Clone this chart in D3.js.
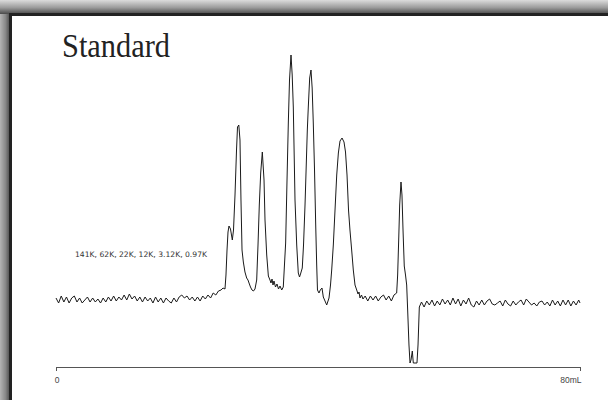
<!DOCTYPE html>
<html>
<head>
<meta charset="utf-8">
<script src="https://cdn.jsdelivr.net/npm/d3@7"></script>
<style>
  html, body { margin: 0; padding: 0; background: #fff; }
  svg { display: block; }
</style>
</head>
<body>
<div id="chart"></div>
<script>
// ---- data ----
const title = "Standard";
const standardsLabel = "141K, 62K, 22K, 12K, 3.12K, 0.97K";
const xDomain = [0, 80];
const xTickValues = [0, 80];
const xTickLabels = ["0", "80mL"];

// elution volume (mL) and detector signal (arbitrary units)
const trace = [
  [0.0,2],[0.4,-3],[0.8,4],[1.2,-2],[1.6,3],[2.0,-3],[2.4,2],[2.8,4],[3.2,-2],[3.6,2],
  [4.0,-3],[4.4,0],[4.8,3],[5.2,-2],[5.6,2],[6.0,-2],[6.4,1],[6.8,-3],[7.2,2],[7.6,-2],
  [8.0,3],[8.4,-1],[8.8,4],[9.2,-1],[9.6,3],[10.0,0],[10.4,5],[10.8,0],[11.2,6],[11.6,1],
  [12.0,4],[12.4,-1],[12.8,3],[13.2,-2],[13.6,3],[14.0,-1],[14.4,2],[14.8,-3],[15.2,3],[15.6,-2],
  [16.0,2],[16.4,-3],[16.8,2],[17.2,-1],[17.6,-3],[18.0,2],[18.4,-2],[18.8,3],[19.2,5],[19.6,2],
  [20.0,4],[20.4,0],[20.8,3],[21.2,-1],[21.6,3],[22.0,-1],[22.4,4],[22.8,1],[23.2,5],[23.6,2],
  [24.0,7],[24.4,5],[24.8,9],[25.2,10],
  [25.50,12],[25.80,11],[25.95,25],[26.11,50],[26.26,68],[26.41,74],[26.64,71],[26.92,60],
  [27.10,70],[27.33,105],[27.56,150],[27.71,173],[27.91,175],[28.09,160],[28.24,100],[28.40,50],
  [28.60,38],[28.85,28],[29.11,22],[29.31,20],[29.47,17],[29.69,13],[29.92,10],[30.15,9],
  [30.38,11],[30.64,20],[30.84,55],[31.04,95],[31.25,127],[31.50,148],[31.76,120],[31.91,80],
  [32.17,45],[32.42,24],[32.67,20],[32.82,17],[32.98,21],[33.13,15],[33.28,19],[33.51,13],
  [33.74,16],[33.97,11],[34.20,14],[34.46,10],[34.70,13],[34.88,35],[35.06,57],[35.27,120],
  [35.47,177],[35.65,220],[35.88,245],[36.06,225],[36.23,193],[36.49,100],[36.75,55],[36.99,27],
  [37.18,23],[37.33,26],[37.60,32],[37.79,55],[38.02,95],[38.17,127],[38.37,170],[38.52,193],
  [38.73,222],[38.93,230],[39.11,212],[39.28,177],[39.47,130],[39.65,75],[39.80,35],[39.92,10],
  [40.15,7],[40.35,10],[40.61,12],[40.81,3],[41.07,-1],[41.33,-5],[41.53,-1],[41.68,2],
  [41.91,15],[42.09,30],[42.34,55],[42.60,90],[42.86,125],[43.11,147],[43.36,159],[43.67,162],
  [43.97,158],[44.20,148],[44.43,125],[44.66,90],[44.88,70],[45.14,50],[45.39,30],[45.65,15],
  [45.91,10],[46.11,6],[46.26,8],[46.41,2],[46.64,5],[46.87,1],
  [47.2,4],[47.6,-1],[48.0,4],[48.4,0],[48.8,4],[49.2,-1],[49.6,3],[50.0,5],[50.4,0],[50.8,4],
  [51.2,-1],[51.6,5],
  [52.01,7],[52.16,25],[52.32,60],[52.47,95],[52.67,118],[52.82,105],[52.98,70],[53.17,34],
  [53.36,25],[53.54,15],[53.69,-10],[53.89,-45],[54.05,-63],[54.20,-60],[54.40,-51],[54.55,-63],
  [54.81,-63],[55.11,-63],[55.27,-45],[55.47,-7],
  [55.8,-2],[56.2,-7],[56.6,-1],[57.0,-5],[57.4,0],[57.8,-6],[58.2,-1],[58.6,-5],[59.0,1],[59.4,-4],
  [59.8,0],[60.2,-5],[60.6,2],[61.0,-4],[61.4,1],[61.8,-6],[62.2,0],[62.6,-4],[63.0,2],[63.4,-5],
  [63.8,-7],[64.2,-1],[64.6,-5],[65.0,0],[65.4,-5],[65.8,-1],[66.2,1],[66.6,-4],[67.0,-5],[67.4,-3],
  [67.8,-1],[68.2,-6],[68.6,0],[69.0,-4],[69.4,-6],[69.8,-1],[70.2,-5],[70.6,-2],[71.0,0],[71.4,-5],
  [71.8,1],[72.2,-2],[72.6,-5],[73.0,-3],[73.4,-6],[73.8,-2],[74.2,-1],[74.6,-5],[75.0,-2],[75.4,-6],
  [75.8,0],[76.2,-5],[76.6,-1],[77.0,-6],[77.4,0],[77.8,-5],[78.2,0],[78.6,-6],[79.0,-1],[79.4,-5],
  [79.8,0],[80.0,-3]
];
const yDomain = [-70, 250];

// ---- drawing ----
const W = 608, H = 400;
const svg = d3.select("#chart").append("svg").attr("width", W).attr("height", H);
const defs = svg.append("defs");

const gTop = defs.append("linearGradient").attr("id", "gTop").attr("x1", 0).attr("y1", 0).attr("x2", 0).attr("y2", 1);
gTop.append("stop").attr("offset", "0%").attr("stop-color", "#dcdcdc");
gTop.append("stop").attr("offset", "55%").attr("stop-color", "#9a9a9a");
gTop.append("stop").attr("offset", "100%").attr("stop-color", "#4a4a4a");
const gLeft = defs.append("linearGradient").attr("id", "gLeft").attr("x1", 0).attr("y1", 0).attr("x2", 1).attr("y2", 0);
gLeft.append("stop").attr("offset", "0%").attr("stop-color", "#b4b4b4");
gLeft.append("stop").attr("offset", "55%").attr("stop-color", "#888");
gLeft.append("stop").attr("offset", "100%").attr("stop-color", "#4a4a4a");

svg.append("rect").attr("x", 0).attr("y", 0).attr("width", 10).attr("height", H).attr("fill", "url(#gLeft)");
svg.append("rect").attr("x", 0).attr("y", 0).attr("width", W).attr("height", 14).attr("fill", "url(#gTop)");
svg.append("rect").attr("x", 9).attr("y", 13).attr("width", W - 9).attr("height", H - 13).attr("fill", "#222");
svg.append("rect").attr("x", 12).attr("y", 16).attr("width", W - 12).attr("height", H - 16).attr("fill", "#fff");

const x = d3.scaleLinear().domain(xDomain).range([56, 580]);
const y = d3.scaleLinear().domain(yDomain).range([370, 50]);

svg.append("text")
  .attr("x", 62).attr("y", 57)
  .attr("font-family", "'Liberation Serif', 'Times New Roman', serif")
  .attr("font-size", 34)
  .attr("textLength", 108).attr("lengthAdjust", "spacingAndGlyphs")
  .attr("fill", "#222")
  .text(title);

svg.append("text")
  .attr("x", 75).attr("y", 257)
  .attr("font-family", "'DejaVu Sans', 'Open Sans', sans-serif")
  .attr("font-size", 7.5)
  .attr("textLength", 132).attr("lengthAdjust", "spacingAndGlyphs")
  .attr("fill", "#333")
  .text(standardsLabel);

const line = d3.line().x(d => x(d[0])).y(d => y(d[1]));
svg.append("path")
  .datum(trace)
  .attr("d", line)
  .attr("fill", "none")
  .attr("stroke", "#1a1a1a")
  .attr("stroke-width", 1)
  .attr("stroke-linejoin", "round");

const axis = d3.axisBottom(x)
  .tickValues(xTickValues)
  .tickSizeInner(4).tickSizeOuter(4)
  .tickPadding(6)
  .tickFormat((d, i) => xTickLabels[i]);
const gAxis = svg.append("g").attr("transform", "translate(0,367)").call(axis);
gAxis.select(".domain").attr("stroke", "#555");
gAxis.selectAll(".tick line").attr("stroke", "#555");
gAxis.selectAll(".tick text")
  .attr("font-family", "'Liberation Sans', Arial, sans-serif")
  .attr("font-size", 8.5)
  .attr("fill", "#444")
  .attr("text-anchor", (d, i) => i === 0 ? "middle" : "end")
  .attr("dx", (d, i) => i === 0 ? "0.5" : "1");
</script>
</body>
</html>
